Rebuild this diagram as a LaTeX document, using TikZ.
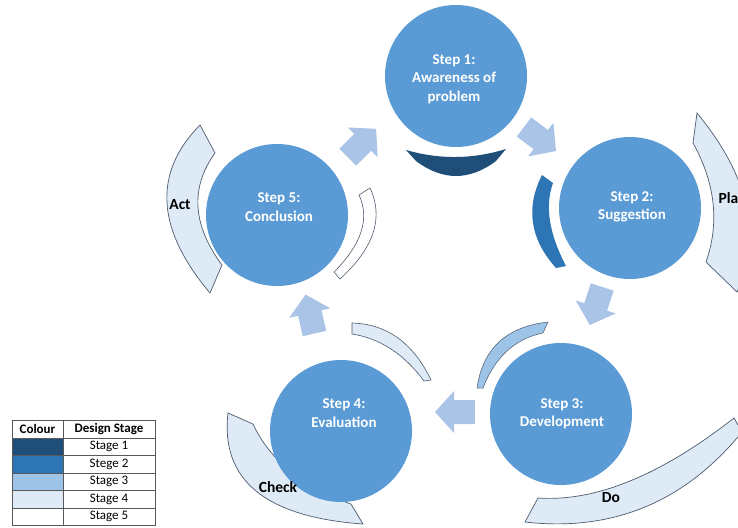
\documentclass[tikz,border=0pt]{standalone}
\usepackage{fontspec}
\setmainfont{Carlito}
\usetikzlibrary{calc}
\definecolor{circ}{HTML}{5B9BD5}
\definecolor{stA}{HTML}{1F4E79}
\definecolor{stB}{HTML}{2E75B6}
\definecolor{stC}{HTML}{9DC3E6}
\definecolor{stD}{HTML}{DEEBF7}
\definecolor{arrowc}{HTML}{A9C4E6}
\definecolor{edgec}{HTML}{4D5B6E}
\definecolor{gridc}{HTML}{595959}
\newcommand\bandshape[7]{%
  \path[#1] (#2) .. controls ($1.3333*(#3)-0.3333*(#4)$) and ($1.3333*(#3)-0.3333*(#2)$) .. (#4)
  -- (#5) .. controls ($1.3333*(#6)-0.3333*(#7)$) and ($1.3333*(#6)-0.3333*(#5)$) .. (#7) -- cycle;}
\tikzset{
  blockarrow/.pic={\fill[arrowc] (-20,-12) -- (1,-12) -- (1,-21) -- (20,0) -- (1,21) -- (1,12) -- (-20,12) -- cycle;},
  stepnode/.style={circle, fill=circ, minimum size=142pt, inner sep=0pt},
  steptext/.style={text=white, font=\fontsize{15}{18.5}\selectfont\bfseries, align=center},
  pdca/.style={fill=stD, draw=edgec, line width=0.7pt},
  pdcatext/.style={font=\fontsize{15.5}{17}\selectfont\bfseries, text=black},
  tabtext/.style={font=\fontsize{13}{14}\selectfont, text=black},
  tabhead/.style={font=\fontsize{13}{14}\selectfont\bfseries, text=black},
}
\begin{document}
\begin{tikzpicture}[x=1pt,y=-1pt]
\useasboundingbox (0,0) rectangle (738,527);
\fill[white] (0,0) rectangle (738,527);
\clip (0,0) rectangle (738,527);

% PDCA arcs
\bandshape{pdca}{697,113}{746,205}{737,292}{706,262}{713,203}{693,143}
\bandshape{pdca}{525,522}{645,507}{742,432}{734,418}{630,481}{538,498}
\bandshape{pdca}{228,413}{256,491}{363,524}{351,504}{290,471}{253,424}
\bandshape{pdca}{200,125}{167,203}{210,293}{222,265}{198,207}{215,153}

% stage arcs
\bandshape{fill=stA}{406,150}{456,157}{506,149}{496,161}{456,176}{416,161}
\bandshape{fill=stB}{542,175}{533,223}{556,268}{566,266}{550,221}{553,183}
\bandshape{fill=stC, draw=edgec, line width=0.5pt}{477,388}{499,342}{548,322}{543,333}{507,351}{483,388}
\bandshape{fill=stD, draw=edgec, line width=0.6pt}{352,323}{398,338}{431,380}{424,381}{391,349}{352,334}
\bandshape{fill=white, draw=edgec, line width=0.6pt}{370,188}{373,233}{340,279}{334,272}{361,232}{359,195}

% block arrows
\pic[rotate=-37] at (540,139) {blockarrow};
\pic[rotate=-108] at (596,306) {blockarrow};
\pic[rotate=180] at (455,412) {blockarrow};
\pic[rotate=103] at (310,314) {blockarrow};
\pic[rotate=45] at (362,143) {blockarrow};

% step circles
\node[stepnode] (s1) at (456,76) {};
\node[steptext] (t1) at (454,79) {Step 1:\\Awareness of\\problem};
\node[stepnode] (s2) at (630,208) {};
\node[steptext] (t2) at (632,207) {Step 2:\\Suggestion};
\node[stepnode] (s3) at (561,414) {};
\node[steptext] (t3) at (562,414) {Step 3:\\Development};
\node[stepnode] (s4) at (341,431) {};
\node[steptext] (t4) at (344,413) {Step 4:\\Evaluation};
\node[stepnode] (s5) at (277,215) {};
\node[steptext] (t5) at (279,207) {Step 5:\\Conclusion};

% PDCA labels
\node[pdcatext, anchor=west] (plan) at (715,198) {Plan};
\node[pdcatext] (act) at (180,205) {Act};
\node[pdcatext] (check) at (278,487) {Check};
\node[pdcatext] (do) at (611,498) {Do};

% legend table
\fill[stA] (12,438) rectangle (63,455);
\fill[stB] (12,455) rectangle (63,473);
\fill[stC] (12,473) rectangle (63,490);
\fill[stD] (12,490) rectangle (63,508);
\draw[gridc, line width=0.8pt] (12,420) rectangle (155,525);
\foreach \yy in {438,455,473,490,508} \draw[gridc, line width=0.8pt] (12,\yy) -- (155,\yy);
\draw[gridc, line width=0.8pt] (63,420) -- (63,525);
\node[tabhead] (hc) at (37.5,429) {Colour};
\node[tabhead] (hd) at (109,429) {Design Stage};
\node[tabtext] (r1) at (109,446.5) {Stage 1};
\node[tabtext] (r2) at (109,464) {Stege 2};
\node[tabtext] (r3) at (109,481.5) {Stage 3};
\node[tabtext] (r4) at (109,499) {Stage 4};
\node[tabtext] (r5) at (109,516.5) {Stage 5};
\end{tikzpicture}
\end{document}
